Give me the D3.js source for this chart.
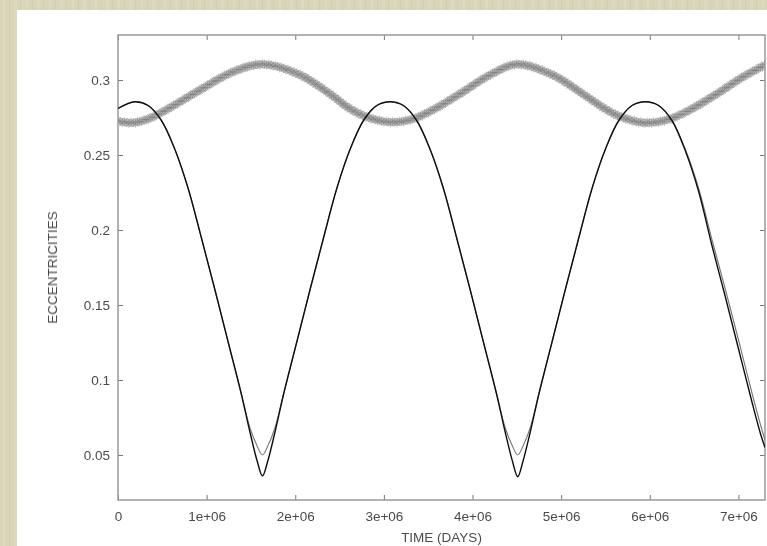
<!DOCTYPE html>
<html>
<head>
<meta charset="utf-8">
<script src="https://cdn.jsdelivr.net/npm/d3@7"></script>
<style>
  body { margin: 0; background: #d6d3b6; }
  svg { display: block; }
</style>
</head>
<body>
<div id="chart"></div>
<script>
// times in days
var timeCurve = [0, 0.19e6, 0.34e6, 0.49e6, 0.64e6, 0.79e6, 0.94e6, 1.09e6, 1.24e6, 1.39e6, 1.49e6, 1.57e6,
    1.63e6, 1.69e6, 1.77e6, 1.87e6, 2.02e6, 2.17e6, 2.32e6, 2.47e6, 2.62e6, 2.77e6, 2.92e6, 3.07e6,
    3.22e6, 3.37e6, 3.52e6, 3.67e6, 3.82e6, 3.97e6, 4.12e6, 4.27e6, 4.37e6, 4.45e6, 4.51e6, 4.57e6,
    4.65e6, 4.75e6, 4.90e6, 5.05e6, 5.20e6, 5.35e6, 5.50e6, 5.65e6, 5.80e6, 5.95e6, 6.10e6, 6.25e6,
    6.40e6, 6.55e6, 6.70e6, 6.85e6, 7.00e6, 7.15e6, 7.25e6, 7.30e6];

// eccentricity, dark line (deeper minima)
var eccDark = [0.281, 0.2855, 0.283, 0.273, 0.254, 0.228, 0.195, 0.161, 0.126, 0.091, 0.065, 0.046,
    0.036, 0.046, 0.065, 0.091, 0.126, 0.161, 0.195, 0.228, 0.254, 0.273, 0.283, 0.2855,
    0.283, 0.273, 0.254, 0.228, 0.195, 0.161, 0.126, 0.091, 0.065, 0.046, 0.0355, 0.046,
    0.065, 0.091, 0.126, 0.161, 0.195, 0.228, 0.254, 0.273, 0.283, 0.2855, 0.283, 0.273,
    0.253, 0.226, 0.190, 0.156, 0.121, 0.086, 0.064, 0.055];

// eccentricity, light line (minima near 0.05)
var eccLight = [0.281, 0.2855, 0.283, 0.273, 0.254, 0.228, 0.195, 0.161, 0.126, 0.091, 0.068, 0.056,
    0.050, 0.056, 0.068, 0.091, 0.126, 0.161, 0.195, 0.228, 0.254, 0.273, 0.283, 0.2855,
    0.283, 0.273, 0.254, 0.228, 0.195, 0.161, 0.126, 0.091, 0.068, 0.056, 0.050, 0.056,
    0.068, 0.091, 0.126, 0.161, 0.195, 0.228, 0.254, 0.273, 0.283, 0.2855, 0.283, 0.273,
    0.254, 0.228, 0.194, 0.161, 0.127, 0.092, 0.070, 0.060];

// the other body (grey star points)
var timeBand = [0, 0.17e6, 0.36e6, 0.60e6, 0.90e6, 1.30e6, 1.63e6, 2.05e6, 2.42e6, 2.60e6, 2.80e6,
    3.05e6, 3.30e6, 3.55e6, 3.85e6, 4.20e6, 4.50e6, 4.90e6, 5.25e6, 5.45e6, 5.65e6, 5.93e6,
    6.20e6, 6.45e6, 6.75e6, 7.05e6, 7.30e6];
var eccBand = [0.2725, 0.2715, 0.2745, 0.282, 0.2925, 0.3055, 0.3105, 0.3035, 0.2895, 0.2815, 0.2755,
    0.272, 0.2735, 0.280, 0.2905, 0.3035, 0.3105, 0.3035, 0.2905, 0.2825, 0.276, 0.2715,
    0.2735, 0.280, 0.2905, 0.302, 0.310];

var xTicks = [0, 1e6, 2e6, 3e6, 4e6, 5e6, 6e6, 7e6];
var xTickLabels = ["0", "1e+06", "2e+06", "3e+06", "4e+06", "5e+06", "6e+06", "7e+06"];
var yTicks = [0.05, 0.1, 0.15, 0.2, 0.25, 0.3];
var yTickLabels = ["0.05", "0.1", "0.15", "0.2", "0.25", "0.3"];

var W = 767, H = 546;
var pL = 118, pR = 765, pT = 35, pB = 500;

var svg = d3.select("#chart").append("svg")
    .attr("width", W)
    .attr("height", H);

var defs = svg.append("defs");

// beige paper texture behind the white panel
var pat = defs.append("pattern")
    .attr("id", "paper")
    .attr("patternUnits", "userSpaceOnUse")
    .attr("width", 23).attr("height", 546);
pat.append("rect").attr("width", 23).attr("height", 546).attr("fill", "#d8d5b9");
pat.append("rect").attr("x", 3).attr("width", 2).attr("height", 546).attr("fill", "#dddac0");
pat.append("rect").attr("x", 9).attr("width", 1).attr("height", 546).attr("fill", "#d1ceb1");
pat.append("rect").attr("x", 14).attr("width", 3).attr("height", 546).attr("fill", "#dcd9bf");
pat.append("rect").attr("x", 20).attr("width", 1).attr("height", 546).attr("fill", "#d2cfb2");

defs.append("filter").attr("id", "soft")
    .append("feGaussianBlur").attr("stdDeviation", 0.55);

defs.append("clipPath").attr("id", "plotclip")
    .append("rect")
    .attr("x", pL).attr("y", pT)
    .attr("width", pR - pL).attr("height", pB - pT);

svg.append("rect").attr("width", W).attr("height", H).attr("fill", "url(#paper)");
svg.append("rect").attr("x", 17).attr("y", 10).attr("width", W - 17).attr("height", H - 10).attr("fill", "#fff");

var x = d3.scaleLinear().domain([0, 7.3e6]).range([pL, pR]);
var y = d3.scaleLinear().domain([0.02, 0.33]).range([pB, pT]);

var g = svg.append("g").attr("filter", "url(#soft)");

// axes, gnuplot style: ticks inward on all four sides
var fontFam = "'Liberation Sans', Arial, sans-serif";

g.append("g")
    .attr("transform", "translate(0," + pB + ")")
    .call(d3.axisBottom(x).tickValues(xTicks)
        .tickFormat(function(d, i) { return xTickLabels[i]; })
        .tickSizeInner(-5).tickSizeOuter(0).tickPadding(11));

g.append("g")
    .attr("transform", "translate(0," + pT + ")")
    .call(d3.axisTop(x).tickValues(xTicks).tickFormat("")
        .tickSizeInner(-5).tickSizeOuter(0));

g.append("g")
    .attr("transform", "translate(" + pL + ",0)")
    .call(d3.axisLeft(y).tickValues(yTicks)
        .tickFormat(function(d, i) { return yTickLabels[i]; })
        .tickSizeInner(-5).tickSizeOuter(0).tickPadding(8));

g.append("g")
    .attr("transform", "translate(" + pR + ",0)")
    .call(d3.axisRight(y).tickValues(yTicks).tickFormat("")
        .tickSizeInner(-5).tickSizeOuter(0));

g.selectAll(".domain").remove();
g.selectAll(".tick line").attr("stroke", "#777").attr("stroke-width", 1);
g.selectAll(".tick text")
    .attr("fill", "#4a4a4a")
    .style("font-family", fontFam)
    .style("font-size", "13.5px");

// frame
g.append("rect")
    .attr("x", pL).attr("y", pT)
    .attr("width", pR - pL).attr("height", pB - pT)
    .attr("fill", "none")
    .attr("stroke", "#999")
    .attr("stroke-width", 1.5);

// axis titles
g.append("text")
    .attr("x", (pL + pR) / 2)
    .attr("y", 542)
    .attr("text-anchor", "middle")
    .attr("fill", "#4a4a4a")
    .style("font-family", fontFam)
    .style("font-size", "13.5px")
    .text("TIME (DAYS)");

g.append("text")
    .attr("transform", "translate(57," + (pT + pB) / 2 + ") rotate(-90)")
    .attr("text-anchor", "middle")
    .attr("fill", "#4a4a4a")
    .style("font-family", fontFam)
    .style("font-size", "13.5px")
    .text("ECCENTRICITIES");

var plot = g.append("g").attr("clip-path", "url(#plotclip)");

var line = d3.line()
    .x(function(d) { return x(d[0]); })
    .y(function(d) { return y(d[1]); })
    .curve(d3.curveCatmullRom.alpha(0.5));

var bandData = d3.zip(timeBand, eccBand);

// grey star band: soft base stroke, then star points placed along it
var bandPath = plot.append("path")
    .datum(bandData)
    .attr("d", line)
    .attr("fill", "none")
    .attr("stroke", "#c8c8c8")
    .attr("stroke-width", 8);

var len = bandPath.node().getTotalLength();
var stars = d3.range(0, len, 2.2).map(function(l, i) {
    var p = bandPath.node().getPointAtLength(l);
    return { x: p.x, y: p.y + ((i % 3) - 1) * 0.9 };
});
var r = 4.5;
var starArms = "M" + (-r) + ",0H" + r + "M0," + (-r) + "V" + r +
    "M" + (-r * 0.7) + "," + (-r * 0.7) + "L" + (r * 0.7) + "," + (r * 0.7) +
    "M" + (-r * 0.7) + "," + (r * 0.7) + "L" + (r * 0.7) + "," + (-r * 0.7);

plot.append("g")
    .selectAll("path")
    .data(stars)
    .enter()
    .append("path")
    .attr("d", starArms)
    .attr("transform", function(d) { return "translate(" + d.x + "," + d.y + ")"; })
    .attr("fill", "none")
    .attr("stroke", "#7a7a7a")
    .attr("stroke-width", 0.6)
    .attr("stroke-opacity", 0.65);

// light and dark eccentricity curves
plot.append("path")
    .datum(d3.zip(timeCurve, eccLight))
    .attr("d", line)
    .attr("fill", "none")
    .attr("stroke", "#777")
    .attr("stroke-width", 1.1);

plot.append("path")
    .datum(d3.zip(timeCurve, eccDark))
    .attr("d", line)
    .attr("fill", "none")
    .attr("stroke", "#111")
    .attr("stroke-width", 1.4);
</script>
</body>
</html>
